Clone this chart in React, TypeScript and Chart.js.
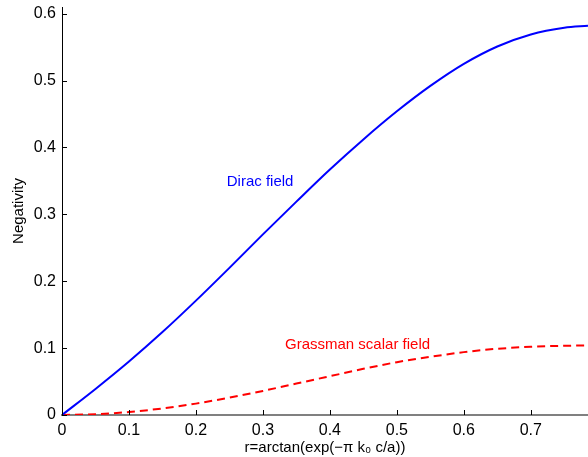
import React, { useEffect, useRef } from "react";
import { Chart, registerables } from "chart.js";

Chart.register(...registerables);

const rValues = [0, 0.05, 0.1, 0.15, 0.2, 0.25, 0.3, 0.35, 0.4, 0.45, 0.5, 0.55, 0.6, 0.65, 0.7, 0.75, 0.7854];
const diracValues = [0, 0.039, 0.08, 0.124, 0.171, 0.22, 0.27, 0.319, 0.367, 0.412, 0.454, 0.492, 0.525, 0.551, 0.569, 0.579, 0.582];
const grassmanValues = [0, 0.0012, 0.0045, 0.0098, 0.017, 0.026, 0.036, 0.047, 0.058, 0.069, 0.079, 0.087, 0.094, 0.099, 0.102, 0.1035, 0.104];

const xTicks = [0, 0.1, 0.2, 0.3, 0.4, 0.5, 0.6, 0.7];
const xTickLabels = ["0", "0.1", "0.2", "0.3", "0.4", "0.5", "0.6", "0.7"];
const yTicks = [0, 0.1, 0.2, 0.3, 0.4, 0.5, 0.6];
const yTickLabels = ["0", "0.1", "0.2", "0.3", "0.4", "0.5", "0.6"];

const xMin = 0;
const xMax = 0.7854;
const yMin = 0;
const yMax = 0.61;

const annotationTexts = ["Dirac field", "Grassman scalar field"];
const annotationX = [0.246, 0.333];
const annotationY = [0.348, 0.1045];
const annotationColors = ["#0000ff", "#ff0000"];

const FONT = "'Liberation Sans', Arial, Helvetica, sans-serif";

export default function App() {
  const canvasRef = useRef<HTMLCanvasElement | null>(null);

  useEffect(() => {
    const canvas = canvasRef.current;
    if (!canvas) return;

    const tickMarks = {
      id: "tickMarks",
      afterDatasetsDraw(chart: any) {
        const { ctx, chartArea, scales } = chart;
        ctx.save();
        ctx.strokeStyle = "#000";
        ctx.lineWidth = 1;
        ctx.beginPath();
        xTicks.forEach((v) => {
          const px = Math.round(scales.x.getPixelForValue(v)) + 0.5;
          ctx.moveTo(px, chartArea.bottom);
          ctx.lineTo(px, chartArea.bottom - 5);
        });
        yTicks.forEach((v) => {
          const py = Math.round(scales.y.getPixelForValue(v)) + 0.5;
          ctx.moveTo(chartArea.left, py);
          ctx.lineTo(chartArea.left + 5, py);
        });
        ctx.stroke();
        ctx.restore();
      },
    };

    const annotations = {
      id: "annotations",
      afterDatasetsDraw(chart: any) {
        const { ctx, scales } = chart;
        ctx.save();
        ctx.font = "15px " + FONT;
        ctx.textAlign = "left";
        ctx.textBaseline = "middle";
        annotationTexts.forEach((t, i) => {
          ctx.fillStyle = annotationColors[i];
          ctx.fillText(t, scales.x.getPixelForValue(annotationX[i]), scales.y.getPixelForValue(annotationY[i]));
        });
        ctx.restore();
      },
    };

    const chart = new Chart(canvas, {
      type: "line",
      data: {
        datasets: [
          {
            label: "Dirac field",
            data: rValues.map((x, i) => ({ x, y: diracValues[i] })),
            borderColor: "#0000ff",
            borderWidth: 2,
            pointRadius: 0,
            cubicInterpolationMode: "monotone",
            fill: false,
          },
          {
            label: "Grassman scalar field",
            data: rValues.map((x, i) => ({ x, y: grassmanValues[i] })),
            borderColor: "#ff0000",
            borderWidth: 2,
            borderDash: [8, 5],
            pointRadius: 0,
            cubicInterpolationMode: "monotone",
            fill: false,
          },
        ],
      },
      options: {
        responsive: false,
        animation: false,
        layout: { padding: { top: 7, right: 0, left: 0, bottom: 0 } },
        plugins: {
          legend: { display: false },
          tooltip: { enabled: false },
        },
        scales: {
          x: {
            type: "linear",
            min: xMin,
            max: xMax,
            afterBuildTicks: (s: any) => {
              s.ticks = xTicks.map((v) => ({ value: v }));
            },
            afterFit: (s: any) => {
              s.height = 42;
              s.paddingLeft = 0;
              s.paddingRight = 0;
            },
            grid: { display: true, drawOnChartArea: false, drawTicks: false },
            border: { display: true, color: "#808080", width: 2 },
            ticks: {
              autoSkip: false,
              maxRotation: 0,
              padding: 6,
              color: "#000",
              font: { size: 16, family: FONT },
              callback: (v: any) => {
                const i = xTicks.findIndex((t) => Math.abs(t - Number(v)) < 1e-9);
                return i >= 0 ? xTickLabels[i] : "";
              },
            },
            title: {
              display: true,
              text: "r=arctan(exp(\u2212\u03c0 k\u2080 c/a))",
              color: "#000",
              font: { size: 15, family: FONT },
              padding: { top: 0, bottom: 0 },
            },
          },
          y: {
            type: "linear",
            min: yMin,
            max: yMax,
            afterBuildTicks: (s: any) => {
              s.ticks = yTicks.map((v) => ({ value: v }));
            },
            afterFit: (s: any) => {
              s.width = 62;
              s.paddingTop = 0;
              s.paddingBottom = 0;
            },
            grid: { display: true, drawOnChartArea: false, drawTicks: false },
            border: { display: true, color: "#000", width: 1 },
            ticks: {
              autoSkip: false,
              padding: 6,
              color: "#000",
              font: { size: 16, family: FONT },
              callback: (v: any) => {
                const i = yTicks.findIndex((t) => Math.abs(t - Number(v)) < 1e-9);
                return i >= 0 ? yTickLabels[i] : "";
              },
            },
            title: {
              display: true,
              text: "Negativity",
              color: "#000",
              font: { size: 15, family: FONT },
              padding: { top: 10, bottom: 0 },
            },
          },
        },
      },
      plugins: [tickMarks, annotations],
    } as any);

    return () => chart.destroy();
  }, []);

  return (
    <div style={{ position: "absolute", left: 0, top: 0, width: 588, height: 457, background: "#fff" }}>
      <canvas ref={canvasRef} width={588} height={457} style={{ width: 588, height: 457, display: "block" }} />
    </div>
  );
}
